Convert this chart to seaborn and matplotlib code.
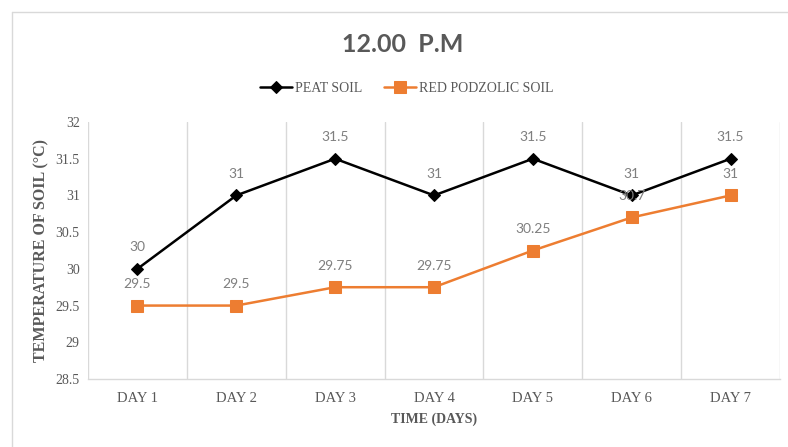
import matplotlib
matplotlib.use("Agg")
import matplotlib.pyplot as plt
from matplotlib.lines import Line2D
import seaborn as sns
import pandas as pd

days = ["DAY 1", "DAY 2", "DAY 3", "DAY 4", "DAY 5", "DAY 6", "DAY 7"]
peat_soil = [30, 31, 31.5, 31, 31.5, 31, 31.5]
red_podzolic_soil = [29.5, 29.5, 29.75, 29.75, 30.25, 30.7, 31]
y_ticks = [28.5, 29, 29.5, 30, 30.5, 31, 31.5, 32]

sns.set_theme(style="white")
plt.rcParams["font.family"] = ["Liberation Serif", "DejaVu Serif"]

GRAY_TXT = "#595959"
LABEL_TXT = "#7f7f7f"
GRID = "#d9d9d9"
ORANGE = "#ed7d31"

df = pd.DataFrame({"pos": range(len(days)), "peat": peat_soil, "red": red_podzolic_soil})

fig = plt.figure(figsize=(7.88, 4.47), dpi=100)
ax = fig.add_axes([88 / 788, 1 - 379 / 447, (780 - 88) / 788, (379 - 122) / 447])

sns.lineplot(data=df, x="pos", y="peat", ax=ax, color="black", linewidth=1.8,
             marker="D", markersize=6, markeredgecolor="black", label="PEAT SOIL")
sns.lineplot(data=df, x="pos", y="red", ax=ax, color=ORANGE, linewidth=1.8,
             marker="s", markersize=8, markeredgecolor=ORANGE, label="RED PODZOLIC SOIL")

# value labels above each point
for series in (peat_soil, red_podzolic_soil):
    for i, v in enumerate(series):
        ax.annotate(f"{v:g}", (i, v), xytext=(0, 15.5), textcoords="offset points",
                    ha="center", va="center", fontsize=10, color=LABEL_TXT,
                    family=["Lato", "DejaVu Sans"])

ax.set_xlim(-0.5, len(days) - 0.5)
ax.set_ylim(28.5, 32)
ax.set_yticks(y_ticks)
ax.set_yticklabels([f"{t:g}" for t in y_ticks])
ax.set_xticks(range(len(days)))
ax.set_xticklabels(days)
ax.tick_params(axis="both", length=0, colors=GRAY_TXT, labelsize=10)
ax.tick_params(axis="x", pad=9, labelsize=10.5)
ax.tick_params(axis="y", pad=6)

# category separators
ax.set_xticks([i - 0.5 for i in range(len(days) + 1)], minor=True)
ax.grid(True, which="minor", axis="x", color=GRID, linewidth=1)
ax.grid(False, which="major")
ax.tick_params(axis="x", which="minor", length=0)

for side in ("top", "right", "left"):
    ax.spines[side].set_visible(False)
ax.spines["bottom"].set_color(GRID)
ax.spines["bottom"].set_linewidth(1)

ax.set_xlabel("TIME (DAYS)", fontsize=10, fontweight="bold", color=GRAY_TXT, labelpad=6)
ax.set_ylabel("TEMPERATURE OF SOIL (°C)", fontsize=11.5, fontweight="bold", color=GRAY_TXT, labelpad=4)

handles, labels = ax.get_legend_handles_labels()
if ax.legend_:
    ax.legend_.remove()
leg = fig.legend(handles, labels, loc="center", bbox_to_anchor=(407 / 788, 1 - 88 / 447),
                 ncol=2, frameon=False, fontsize=10, handlelength=2.3, handletextpad=0.2,
                 columnspacing=1.6)
for t in leg.get_texts():
    t.set_color(GRAY_TXT)

fig.text(403 / 788, 1 - 45 / 447, "12.00  P.M", ha="center", va="center", fontsize=18,
         fontweight="bold", color=GRAY_TXT, family=["Lato", "DejaVu Sans"])

# chart frame
fig.add_artist(Line2D([12 / 788, 1], [1 - 12 / 447, 1 - 12 / 447], color=GRID, linewidth=1,
                      transform=fig.transFigure))
fig.add_artist(Line2D([12 / 788, 12 / 788], [0, 1 - 12 / 447], color=GRID, linewidth=1,
                      transform=fig.transFigure))

fig.savefig("out.png", dpi=100)
